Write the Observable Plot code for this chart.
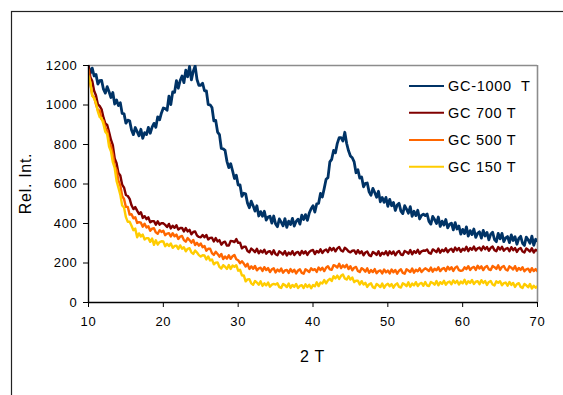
<!DOCTYPE html>
<html>
<head>
<meta charset="utf-8">
<script src="https://cdn.jsdelivr.net/npm/d3@7"></script>
<script src="https://cdn.jsdelivr.net/npm/@observablehq/plot@0.6"></script>
<style>
  html, body { margin: 0; padding: 0; background: #fff; }
  #chart { width: 563px; height: 395px; overflow: hidden; }
</style>
</head>
<body>
<div id="chart"></div>
<script>
// 2θ scan positions (degrees), 0.25° sampling, 10 → 70
const twoTheta = d3.range(10, 70.001, 0.25);

// Relative intensity (20 values = 5° per row)
const gc1000 = [
  1196,1160,1187,1147,1155,1106,1123,1125,1080,1060,1093,1067,1038,1063,1005,1025,997,1012,957,955,
  908,923,920,873,850,886,865,844,877,831,860,850,887,857,888,907,887,940,925,960,
  985,982,973,1045,1002,1066,1064,1123,1085,1124,1147,1113,1176,1143,1195,1127,1171,1198,1129,1100,
  1100,1110,1072,1072,1002,1001,987,920,922,863,850,780,778,770,715,683,703,667,628,645,
  595,595,538,553,550,503,480,513,490,463,490,438,460,437,462,417,433,437,402,438,
  398,384,423,407,388,425,380,412,395,426,387,411,422,397,442,420,445,416,453,475,
  490,458,500,502,552,534,578,624,632,712,725,770,758,806,835,835,818,862,805,768,
  742,733,712,657,672,630,635,586,603,605,560,543,578,557,533,563,510,532,507,532,
  487,522,490,507,466,493,502,463,450,490,473,452,485,436,462,440,467,423,441,447,
  440,448,410,397,436,420,400,433,385,412,392,420,378,396,402,368,404,372,387,346,
  370,349,383,336,364,344,372,330,350,358,326,365,337,355,317,346,356,319,308,350,
  322,350,308,327,334,303,342,314,333,295,324,335,300,289,331,317,300,336,290,320,
  312
];
const gc700 = [
  1196,1141,1121,1072,1048,1004,994,978,937,906,899,863,824,797,730,705,656,643,596,582,
  544,539,525,492,473,483,465,448,457,428,437,422,431,406,412,412,394,411,394,402,
  401,393,382,398,375,389,378,391,369,377,378,360,377,360,368,345,357,360,339,332,
  330,342,330,342,319,327,328,309,326,309,316,293,304,308,288,288,312,311,306,321,
  302,303,274,282,282,261,254,273,265,255,272,249,263,253,267,247,257,260,244,264,
  244,239,259,252,243,260,238,253,244,260,240,252,256,241,261,248,259,241,256,263,
  266,245,261,253,269,251,263,268,255,277,264,276,259,274,281,263,258,277,270,259,
  254,262,264,247,265,249,259,239,253,258,240,235,256,250,241,259,237,252,244,259,
  239,259,246,258,239,254,261,243,240,261,256,247,266,244,260,251,267,247,259,263,
  262,268,251,247,269,263,255,273,252,267,259,274,255,267,272,257,278,264,276,257,
  272,264,282,260,276,267,283,263,274,278,264,284,270,281,262,277,283,265,260,281,
  268,282,262,272,276,260,280,265,276,256,271,276,258,253,274,267,258,275,253,267,
  262
];
const gc500 = [
  1180,1107,1048,1039,1003,974,972,928,920,884,871,816,792,751,691,671,617,593,539,524,
  484,484,445,447,426,432,403,407,404,384,399,380,386,363,374,376,355,348,366,357,
  363,341,349,351,334,351,335,344,322,334,337,316,308,326,316,303,317,291,302,288,
  299,280,286,262,272,273,250,241,257,246,232,246,220,233,222,239,221,234,241,219,
  214,199,209,197,182,196,170,183,171,185,163,173,176,160,179,164,174,154,168,173,
  152,167,157,172,151,162,165,150,169,155,166,147,162,168,150,146,168,162,154,173,
  164,169,155,177,164,176,159,176,184,168,166,189,185,177,196,174,188,178,191,169,
  184,163,176,180,160,154,174,167,156,173,150,164,154,169,148,159,162,147,167,153,
  162,147,167,153,165,146,161,168,150,146,168,162,154,172,151,166,158,173,154,165,
  173,167,159,177,156,171,163,178,159,170,175,160,181,167,179,160,176,182,164,160,
  163,178,169,184,165,176,180,165,186,172,183,164,179,185,168,164,185,179,170,188,
  165,180,185,167,162,183,176,167,184,161,175,165,179,158,168,171,155,174,159,169,
  158
];
const gc150 = [
  1147,1113,1049,1034,1010,967,938,934,903,864,852,790,765,711,681,616,582,546,491,481,
  432,408,409,389,366,374,330,350,334,344,319,326,326,307,324,292,315,293,306,310,
  309,285,297,286,299,277,286,288,271,289,272,280,259,272,275,254,246,263,253,240,
  233,239,238,218,233,213,218,193,202,203,180,172,189,181,170,190,170,187,181,189,
  161,166,137,137,107,117,118,97,90,109,101,90,107,84,97,87,101,80,90,94,
  91,97,78,74,94,88,78,96,74,89,79,94,73,84,88,73,92,78,90,72,
  88,82,102,83,101,96,114,97,112,120,109,133,122,136,119,135,142,122,116,133,
  116,127,103,110,110,91,108,91,100,79,92,97,78,73,94,87,78,96,74,89,
  95,82,93,75,90,97,79,76,97,92,83,102,80,96,87,103,83,95,99,85,
  104,86,83,104,99,90,109,87,103,94,110,90,102,106,92,112,99,110,91,106,
  97,115,93,108,99,114,94,105,108,93,113,99,109,89,104,109,91,86,107,100,
  108,87,98,101,85,104,89,99,79,93,98,79,74,94,87,77,94,71,85,75,
  82
];

const seriesNames = ["GC-1000\u00a0 T", "GC 700 T", "GC 500 T", "GC 150 T"];
const seriesColors = ["#003366", "#800000", "#ff6600", "#ffcc00"];
const seriesWidths = [2.8, 2.4, 2.4, 2.4];
const seriesValues = [gc1000, gc700, gc500, gc150];

const xTicks = [10, 20, 30, 40, 50, 60, 70];
const yTicks = [0, 200, 400, 600, 800, 1000, 1200];
const xLabel = "2 T";
const yLabel = "Rel. Int.";

const W = 563, H = 395;
const mL = 88, mR = 26, mT = 65, mB = 93;

const lineMarks = seriesValues.map((vals, k) =>
  Plot.line(twoTheta.map((t, i) => ({t, v: vals[i]})), {
    x: "t", y: "v", stroke: seriesColors[k], strokeWidth: seriesWidths[k], clip: true
  })
);

const plot = Plot.plot({
  width: W, height: H,
  marginLeft: mL, marginRight: mR, marginTop: mT, marginBottom: mB,
  style: { fontFamily: "'Liberation Sans', Arial, sans-serif", fontSize: "13px", background: "#fff", color: "#000", letterSpacing: "0.7px" },
  x: { domain: [10, 70] },
  y: { domain: [0, 1200] },
  marks: [
    Plot.ruleY([1200], { stroke: "#8c8c8c", strokeWidth: 1.6 }),
    Plot.ruleX([70], { stroke: "#8c8c8c", strokeWidth: 1.6 }),
    ...lineMarks,
    Plot.ruleX([10], { stroke: "#000", strokeWidth: 1.4 }),
    Plot.ruleY([0], { stroke: "#000", strokeWidth: 1.4 }),
    Plot.axisY({ ticks: yTicks, tickSize: 5, tickPadding: 6, tickFormat: d => String(d), label: null, fontSize: 13 }),
    Plot.axisX({ ticks: xTicks, tickSize: 5, tickPadding: 9, tickFormat: d => String(d), label: null, fontSize: 13 })
  ]
});

const svg = d3.select(plot);
// outer chart-area frame
svg.insert("rect", ":first-child")
  .attr("x", 11.5).attr("y", 11.5).attr("width", 700).attr("height", 500)
  .attr("fill", "none").attr("stroke", "#222").attr("stroke-width", 1.2);

// axis titles
svg.append("text")
  .attr("x", (mL + (W - mR)) / 2).attr("y", 362)
  .attr("text-anchor", "middle").attr("font-size", 16).attr("fill", "#000")
  .style("white-space", "pre").text(xLabel);
svg.append("text")
  .attr("transform", `translate(25,${(mT + (H - mB)) / 2}) rotate(-90)`)
  .attr("text-anchor", "middle").attr("dominant-baseline", "central")
  .attr("font-size", 16).attr("fill", "#000")
  .text(yLabel);

// legend
const lg = svg.append("g").attr("font-size", 14.5).attr("text-anchor", "start");
const rowY = [86, 112.7, 140, 166.7];
seriesNames.forEach((name, k) => {
  lg.append("line").attr("x1", 409).attr("x2", 444).attr("y1", rowY[k]).attr("y2", rowY[k])
    .attr("stroke", seriesColors[k]).attr("stroke-width", 2);
  lg.append("text").attr("x", 448).attr("y", rowY[k]).attr("dy", "0.36em")
    .attr("text-anchor", "start").attr("fill", "#000").style("white-space", "pre").text(name);
});

document.getElementById("chart").appendChild(plot);
</script>
</body>
</html>
